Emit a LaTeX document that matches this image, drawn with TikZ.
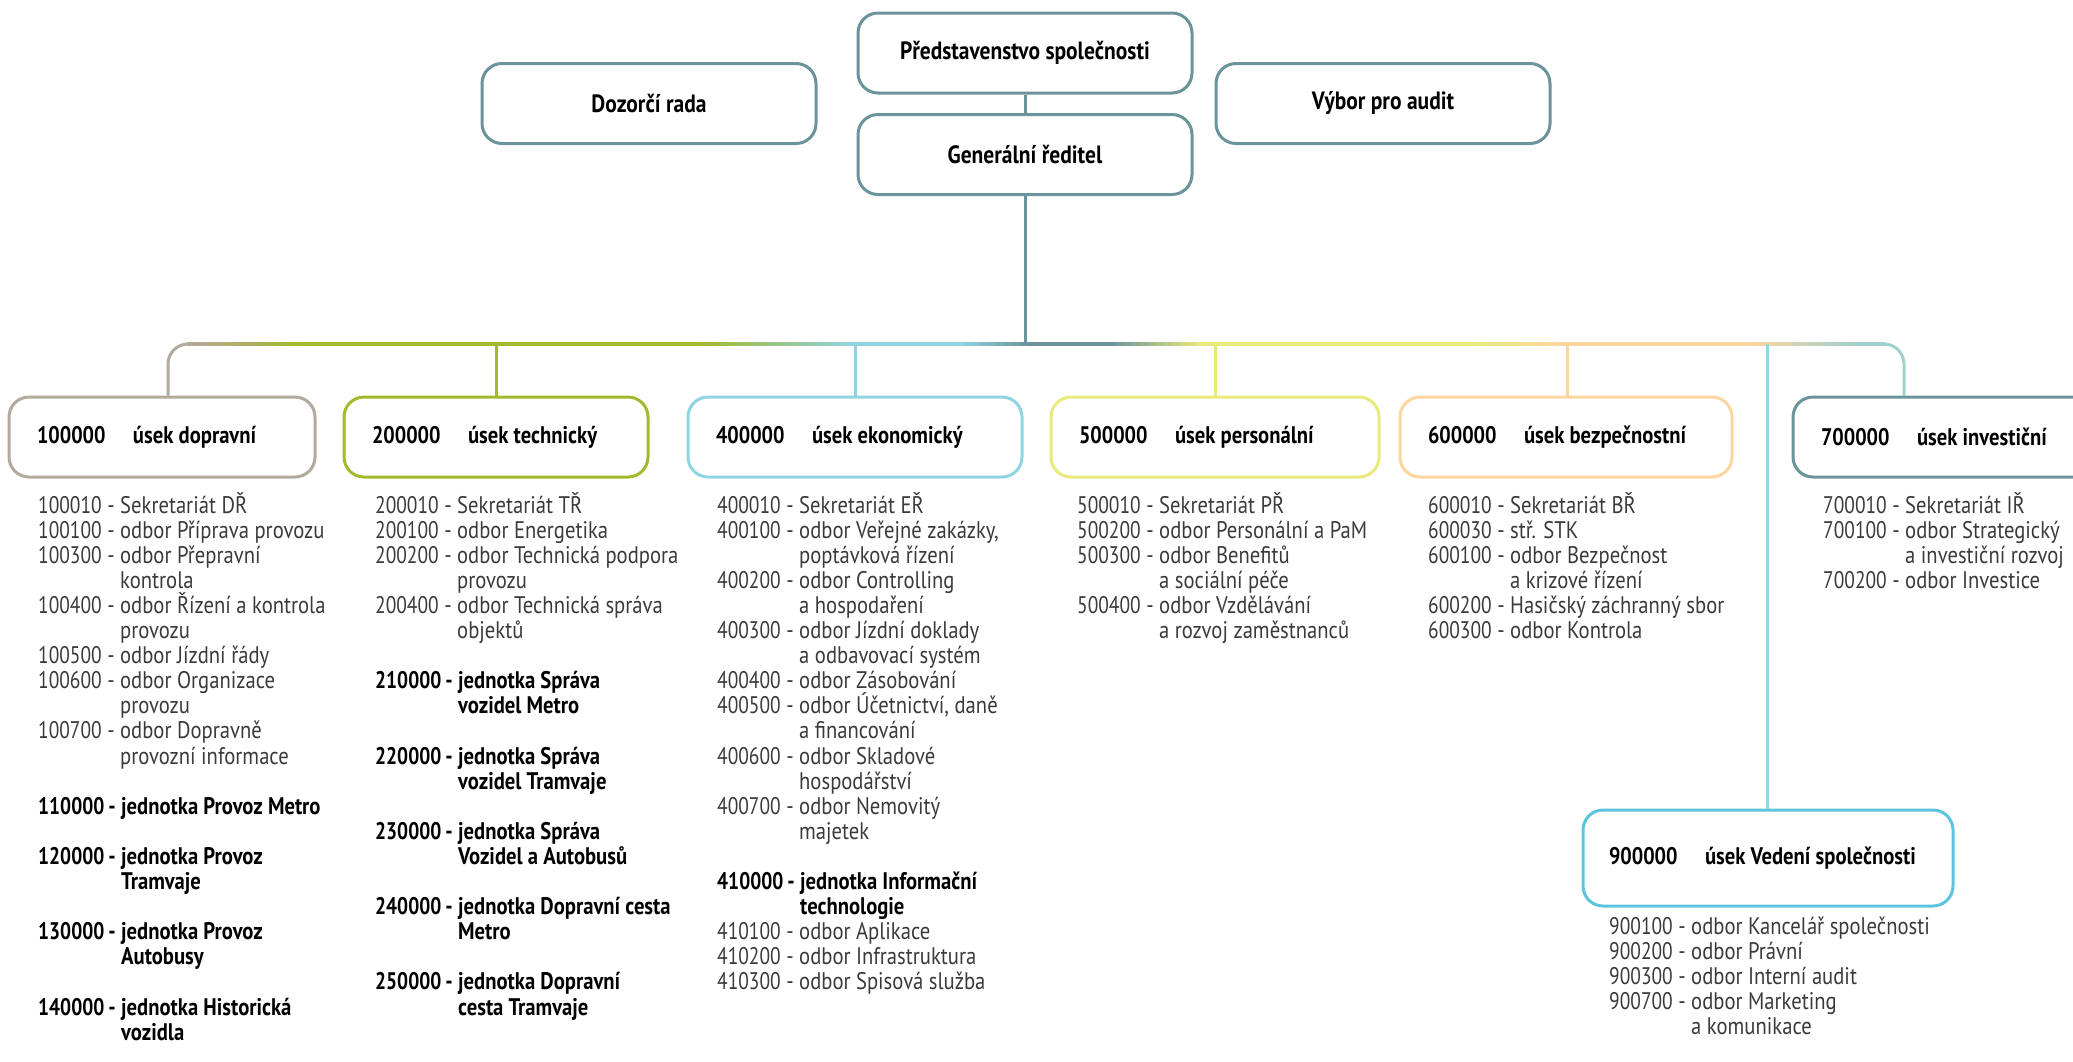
\documentclass[tikz,border=0pt]{standalone}
\usepackage{fontspec}
\setmainfont[FakeStretch=0.86]{PT Sans}
\newfontfamily\numfont[FakeStretch=0.81]{PT Sans}
\newfontfamily\bnumfont[FakeStretch=0.84]{PT Sans}
\usetikzlibrary{calc}
\definecolor{topc}{HTML}{6B939B}
\definecolor{cA}{HTML}{B3A99C}
\definecolor{cB}{HTML}{A4B82C}
\definecolor{cC}{HTML}{8FD4E2}
\definecolor{cD}{HTML}{E8EA7C}
\definecolor{cE}{HTML}{FDD59E}
\definecolor{cG}{HTML}{6B939B}
\definecolor{cGl}{HTML}{9FD0CD}
\definecolor{cI}{HTML}{5CC4DE}
\definecolor{cIl}{HTML}{93D5E2}
\definecolor{txt}{HTML}{3A3A3A}
\newcommand\Ritem[2]{\hbox{\makebox[82pt][l]{{\numfont #1} -}#2}}
\newcommand\Rcont[1]{\hbox{\hspace*{82pt}#1}}
\newcommand\Bitem[2]{\hbox{\color{black}\bfseries\makebox[83pt][l]{{\numfont\bfseries #1}\kern4pt-}#2}}
\newcommand\Bcont[1]{\hbox{\color{black}\bfseries\hspace*{83pt}#1}}
\newcommand\Blank{\hbox{}}
\newcommand\Lst[1]{\vtop{\baselineskip=25.1pt\lineskiplimit=-100pt\lineskip=0pt #1}}
\newcommand\Ttl[3]{\makebox[#1][l]{\makebox[96pt][l]{\bnumfont\bfseries #2}#3}}
\newcommand\busseg[4]{\shade[left color=#3, right color=#4] (#1,342.5) rectangle (#2,345.5);}
\tikzset{
  topbox/.style={draw=topc, line width=3pt, rounded corners=20pt, fill=white,
    minimum width=334pt, minimum height=80pt, inner sep=0pt,
    font=\fontsize{25}{28}\selectfont\bfseries, text=black},
  dept/.style={draw=#1, line width=3pt, rounded corners=20pt, fill=white,
    minimum height=80pt, inner ysep=0pt, inner xsep=28pt,
    font=\fontsize{24}{28}\selectfont\bfseries, text=black},
  lst/.style={anchor=base west, inner sep=0pt,
    font=\fontsize{24}{25.1}\selectfont, text=txt},
  conn/.style={line width=3pt},
}
\begin{document}
\begin{tikzpicture}[x=1pt,y=-1pt]
\useasboundingbox (0,0) rectangle (2073,1061);

% top level
\node[topbox] (ps) at (1025,53) {Představenstvo společnosti};
\node[topbox] (gr) at (1025,154.5) {Generální ředitel};
\node[topbox] (dr) at (649,103.5) {Dozorčí rada};
\node[topbox] (va) at (1383,103.5) {Výbor pro audit};

% departments
\node[dept=cA] (d1) at (162,437) {\Ttl{250pt}{100000}{úsek dopravní}};
\node[dept=cB] (d2) at (496,437) {\Ttl{248pt}{200000}{úsek technický}};
\node[dept=cC] (d3) at (855,437) {\Ttl{278pt}{400000}{úsek ekonomický}};
\node[dept=cD] (d4) at (1215,437) {\Ttl{272pt}{500000}{úsek personální}};
\node[dept=cE] (d5) at (1566,437) {\Ttl{276pt}{600000}{úsek bezpečnostní}};
\node[dept=cG] (d7) at (1958,437) {\Ttl{274pt}{700000}{úsek investiční}};
\node[dept=cI, minimum height=96pt, inner xsep=26pt] (d9) at (1768,858) {\Ttl{318pt}{900000}{úsek Vedení společnosti}};

% junctions on the bus
\coordinate (j1) at (168,344);
\coordinate (j2) at (496,344);
\coordinate (j3) at (855,344);
\coordinate (jc) at (1025,344);
\coordinate (j4) at (1215,344);
\coordinate (j5) at (1567,344);
\coordinate (j9) at (1767,344);
\coordinate (j7) at (1904,344);

% bus (gradient)
\busseg{187}{300}{cA}{cB}
\busseg{299.5}{700}{cB}{cB}
\busseg{699.5}{855}{cB}{cC}
\busseg{854.5}{960}{cC}{cC}
\busseg{959.5}{1030}{cC}{topc}
\busseg{1029.5}{1110}{topc}{topc}
\busseg{1109.5}{1200}{topc}{cD}
\busseg{1199.5}{1480}{cD}{cD}
\busseg{1479.5}{1565}{cD}{cE}
\busseg{1564.5}{1750}{cE}{cE}
\busseg{1749.5}{1860}{cE}{cGl}
\busseg{1859.5}{1885.5}{cGl}{cGl}

% connectors
\draw[conn, topc] (ps) -- (gr);
\draw[conn, topc] (gr.south) -- (jc);
\draw[conn, cA, rounded corners=20pt] ($(j1)+(20,0)$) -| (d1.north -| j1);
\draw[conn, cB] (j2) -- (d2.north);
\draw[conn, cC] (j3) -- (d3.north);
\draw[conn, cD] (j4) -- (d4.north -| j4);
\draw[conn, cE] (j5) -- (d5.north -| j5);
\draw[conn, cIl] (j9) -- (d9.north -| j9);
\draw[conn, cGl, rounded corners=20pt] ($(j7)+(-20,0)$) -| (d7.north -| j7);

% lists
\node[lst] (l1) at (38,513) {\Lst{%
\Ritem{100010}{Sekretariát DŘ}
\Ritem{100100}{odbor Příprava provozu}
\Ritem{100300}{odbor Přepravní}
\Rcont{kontrola}
\Ritem{100400}{odbor Řízení a kontrola}
\Rcont{provozu}
\Ritem{100500}{odbor Jízdní řády}
\Ritem{100600}{odbor Organizace}
\Rcont{provozu}
\Ritem{100700}{odbor Dopravně}
\Rcont{provozní informace}
\Blank
\Bitem{110000}{jednotka Provoz Metro}
\Blank
\Bitem{120000}{jednotka Provoz}
\Bcont{Tramvaje}
\Blank
\Bitem{130000}{jednotka Provoz}
\Bcont{Autobusy}
\Blank
\Bitem{140000}{jednotka Historická}
\Bcont{vozidla}}};

\node[lst] (l2) at (375,513) {\Lst{%
\Ritem{200010}{Sekretariát TŘ}
\Ritem{200100}{odbor Energetika}
\Ritem{200200}{odbor Technická podpora}
\Rcont{provozu}
\Ritem{200400}{odbor Technická správa}
\Rcont{objektů}
\Blank
\Bitem{210000}{jednotka Správa}
\Bcont{vozidel Metro}
\Blank
\Bitem{220000}{jednotka Správa}
\Bcont{vozidel Tramvaje}
\Blank
\Bitem{230000}{jednotka Správa}
\Bcont{Vozidel a Autobusů}
\Blank
\Bitem{240000}{jednotka Dopravní cesta}
\Bcont{Metro}
\Blank
\Bitem{250000}{jednotka Dopravní}
\Bcont{cesta Tramvaje}}};

\node[lst] (l3) at (717,513) {\Lst{%
\Ritem{400010}{Sekretariát EŘ}
\Ritem{400100}{odbor Veřejné zakázky,}
\Rcont{poptávková řízení}
\Ritem{400200}{odbor Controlling}
\Rcont{a hospodaření}
\Ritem{400300}{odbor Jízdní doklady}
\Rcont{a odbavovací systém}
\Ritem{400400}{odbor Zásobování}
\Ritem{400500}{odbor Účetnictví, daně}
\Rcont{a financování}
\Ritem{400600}{odbor Skladové}
\Rcont{hospodářství}
\Ritem{400700}{odbor Nemovitý}
\Rcont{majetek}
\Blank
\Bitem{410000}{jednotka Informační}
\Bcont{technologie}
\Ritem{410100}{odbor Aplikace}
\Ritem{410200}{odbor Infrastruktura}
\Ritem{410300}{odbor Spisová služba}}};

\node[lst] (l4) at (1077,513) {\Lst{%
\Ritem{500010}{Sekretariát PŘ}
\Ritem{500200}{odbor Personální a PaM}
\Ritem{500300}{odbor Benefitů}
\Rcont{a sociální péče}
\Ritem{500400}{odbor Vzdělávání}
\Rcont{a rozvoj zaměstnanců}}};

\node[lst] (l5) at (1428,513) {\Lst{%
\Ritem{600010}{Sekretariát BŘ}
\Ritem{600030}{stř. STK}
\Ritem{600100}{odbor Bezpečnost}
\Rcont{a krizové řízení}
\Ritem{600200}{Hasičský záchranný sbor}
\Ritem{600300}{odbor Kontrola}}};

\node[lst] (l7) at (1823,513) {\Lst{%
\Ritem{700010}{Sekretariát IŘ}
\Ritem{700100}{odbor Strategický}
\Rcont{a investiční rozvoj}
\Ritem{700200}{odbor Investice}}};

\node[lst] (l9) at (1609,934) {\Lst{%
\Ritem{900100}{odbor Kancelář společnosti}
\Ritem{900200}{odbor Právní}
\Ritem{900300}{odbor Interní audit}
\Ritem{900700}{odbor Marketing}
\Rcont{a komunikace}}};
\end{tikzpicture}
\end{document}
